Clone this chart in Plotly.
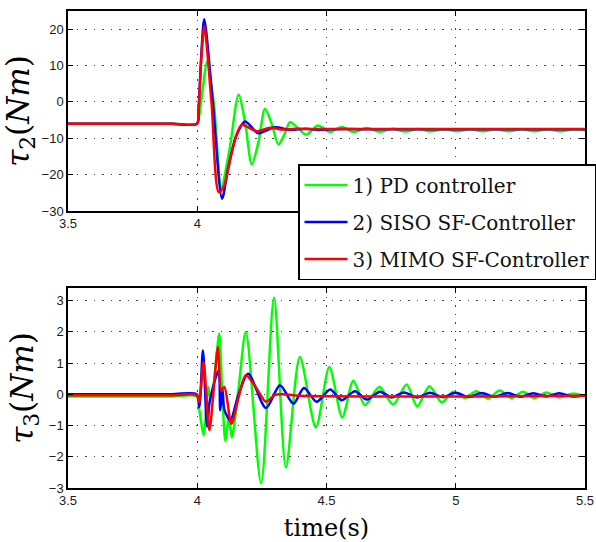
import plotly.graph_objects as go

# ---------------- data: tau2 (top) ----------------
t_pd_2 = [3.5, 3.9, 3.999, 4.006, 4.022, 4.038, 4.065, 4.093, 4.125, 4.160, 4.185, 4.211,
          4.237, 4.262, 4.288, 4.314, 4.337, 4.359, 4.39, 4.421, 4.444, 4.466, 4.49, 4.513,
          4.559, 4.604, 4.655, 4.705, 4.755, 4.805, 4.855, 4.905, 4.955, 5.005, 5.055, 5.105,
          5.155, 5.205, 5.255, 5.305, 5.355, 5.405, 5.455, 5.5]
v_pd_2 = [-6.0, -6.0, -6.0, -4.5, 4.0, 11.2, -1.0, -23.4, -13.0, 2.0, -5.5, -17.2,
          -11.0, -1.9, -6.0, -11.7, -9.0, -5.6, -7.2, -9.0, -7.8, -6.5, -7.3, -8.3,
          -6.9, -8.3, -7.2, -8.2, -7.4, -8.15, -7.45, -8.1, -7.5, -8.1, -7.5, -8.1,
          -7.5, -8.05, -7.5, -8.05, -7.55, -8.05, -7.55, -7.8]

t_siso_2 = [3.5, 3.9, 3.999, 4.005, 4.015, 4.027, 4.06, 4.096, 4.12, 4.15, 4.185, 4.236,
            4.30, 4.36, 4.42, 4.47, 4.53, 4.7, 5.5]
v_siso_2 = [-6.0, -6.0, -6.0, -2.0, 12.0, 22.7, 0.0, -26.6, -18.0, -9.5, -5.4, -8.6,
            -7.0, -7.7, -7.4, -7.7, -7.5, -7.5, -7.5]

t_mimo_2 = [3.5, 3.9, 3.999, 4.005, 4.015, 4.027, 4.055, 4.083, 4.102, 4.13, 4.15, 4.172,
            4.230, 4.281, 4.33, 4.38, 4.45, 4.7, 5.5]
v_mimo_2 = [-6.0, -6.0, -6.0, -2.5, 11.0, 20.7, 0.0, -24.8, -23.4, -15.0, -9.5, -6.3,
            -8.1, -7.1, -7.6, -7.4, -7.45, -7.45, -7.45]

# ---------------- data: tau3 (bottom) ----------------
t_pd_3 = [3.5, 3.9, 3.998, 4.008, 4.016, 4.025, 4.034, 4.042, 4.050, 4.060, 4.072, 4.085,
          4.097, 4.109, 4.122, 4.134, 4.16, 4.188, 4.247, 4.297, 4.343, 4.397, 4.459,
          4.511, 4.561, 4.604, 4.649, 4.704, 4.758, 4.810, 4.851, 4.898, 4.946, 4.99,
          5.035, 5.08, 5.125, 5.17, 5.215, 5.26, 5.305, 5.35, 5.40, 5.45, 5.5]
v_pd_3 = [-0.07, -0.07, -0.07, -0.5, -0.94, -1.31, -0.6, 0.23, -0.1, 0.1, 1.0, 1.94,
          0.0, -1.5, -0.75, -1.38, 0.2, 2.0, -2.85, 3.1, -2.34, 1.19, -1.06,
          0.87, -0.74, 0.43, -0.35, 0.23, -0.33, 0.31, -0.39, 0.26, -0.26, 0.08,
          -0.12, 0.1, -0.14, 0.12, -0.12, 0.08, -0.12, 0.06, -0.1, 0.02, -0.06]

t_siso_3 = [3.5, 3.9, 3.998, 4.008, 4.022, 4.038, 4.047, 4.060, 4.070, 4.083, 4.089,
            4.098, 4.105, 4.128, 4.16, 4.197, 4.266, 4.320, 4.372, 4.413, 4.462, 4.514,
            4.559, 4.610, 4.656, 4.707, 4.752, 4.80, 4.85, 4.90, 4.95, 5.0, 5.05, 5.1,
            5.15, 5.2, 5.25, 5.3, 5.35, 5.4, 5.45, 5.5]
v_siso_3 = [0.0, 0.0, 0.0, -0.41, 1.40, -1.04, -0.29, 0.2, 0.5, 0.77, -0.51,
            0.13, -0.5, -0.83, 0.0, 0.66, -0.44, 0.29, -0.30, 0.2, -0.24, 0.15,
            -0.19, 0.1, -0.17, 0.08, -0.1, 0.06, -0.1, 0.05, -0.09, 0.05, -0.09, 0.04,
            -0.08, 0.04, -0.08, 0.03, -0.07, 0.03, -0.07, -0.03]

t_mimo_3 = [3.5, 3.9, 3.998, 4.008, 4.024, 4.047, 4.062, 4.080, 4.093, 4.105, 4.132,
            4.16, 4.188, 4.23, 4.266, 4.30, 4.33, 4.4, 5.5]
v_mimo_3 = [-0.03, -0.03, -0.03, -0.25, 1.03, -1.15, 0.0, 1.51, 0.13, 0.23, -0.94,
            -0.1, 0.61, 0.18, -0.24, -0.02, 0.0, -0.05, -0.05]

series_names = ["1) PD controller", "2) SISO SF-Controller", "3) MIMO SF-Controller"]
series_colors = ["#00ff00", "#0000ff", "#ff0000"]

x_ticks = [3.5, 4, 4.5, 5, 5.5]
x_ticktext = ["3.5", "4", "4.5", "5", "5.5"]
y2_ticks = [-30, -20, -10, 0, 10, 20]
y3_ticks = [-3, -2, -1, 0, 1, 2, 3]

W, H = 596, 542

top_data = [(t_pd_2, v_pd_2), (t_siso_2, v_siso_2), (t_mimo_2, v_mimo_2)]
bot_data = [(t_pd_3, v_pd_3), (t_siso_3, v_siso_3), (t_mimo_3, v_mimo_3)]

fig = go.Figure()
for i, (tt, vv) in enumerate(top_data):
    fig.add_trace(go.Scatter(x=tt, y=vv, mode="lines", name=series_names[i],
                             line=dict(color=series_colors[i], width=2.5, shape="spline", smoothing=0.8),
                             xaxis="x", yaxis="y", legendgroup=f"g{i}", showlegend=True))
for i, (tt, vv) in enumerate(bot_data):
    fig.add_trace(go.Scatter(x=tt, y=vv, mode="lines", name=series_names[i],
                             line=dict(color=series_colors[i], width=2.5, shape="spline", smoothing=0.8),
                             xaxis="x2", yaxis="y2", legendgroup=f"g{i}", showlegend=False))

xdom = [68 / W, 585 / W]
top_dom = [1 - 211 / H, 1 - 11 / H]
bot_dom = [1 - 488 / H, 1 - 288 / H]

tickfont = dict(family="Liberation Sans, Arial, sans-serif", size=13, color="#1a1a1a")
common = dict(showline=True, linecolor="black", linewidth=1.5, mirror="allticks",
              ticks="inside", ticklen=5, tickcolor="black", tickwidth=1,
              showgrid=True, gridcolor="#444444", gridwidth=1, griddash="1.5px,7px",
              zeroline=False, tickfont=tickfont, automargin=False)

serif = "DejaVu Serif, Liberation Serif, serif"

fig.update_layout(
    width=W, height=H,
    margin=dict(l=0, r=0, t=0, b=0, autoexpand=False),
    paper_bgcolor="white", plot_bgcolor="white",
    showlegend=True,
    xaxis=dict(domain=xdom, range=[3.5, 5.5], tickvals=x_ticks, ticktext=x_ticktext,
               anchor="y", **common),
    yaxis=dict(domain=top_dom, range=[-30, 25], tickvals=y2_ticks, anchor="x",
               title=dict(text="<i>τ</i><sub>2</sub>(<i>Nm</i>)", font=dict(family=serif, size=31, color="black"),
                          standoff=6), **common),
    xaxis2=dict(domain=xdom, range=[3.5, 5.5], tickvals=x_ticks, ticktext=x_ticktext,
                anchor="y2",
                title=dict(text="time(s)", font=dict(family=serif, size=24, color="black"), standoff=13),
                **common),
    yaxis2=dict(domain=bot_dom, range=[-3, 3.4], tickvals=y3_ticks, anchor="x2",
                title=dict(text="<i>τ</i><sub>3</sub>(<i>Nm</i>)", font=dict(family=serif, size=31, color="black"),
                           standoff=6), **common),
    legend=dict(x=298 / W, y=1 - 164 / H, xanchor="left", yanchor="top",
                bgcolor="white", bordercolor="black", borderwidth=1.5,
                font=dict(family=serif, size=20, color="#111111"),
                traceorder="grouped", tracegroupgap=8, itemwidth=43),
)

fig.write_html("out.html", config={"displayModeBar": False},
               post_script="document.body.style.margin='0px';document.body.style.overflow='hidden';")
